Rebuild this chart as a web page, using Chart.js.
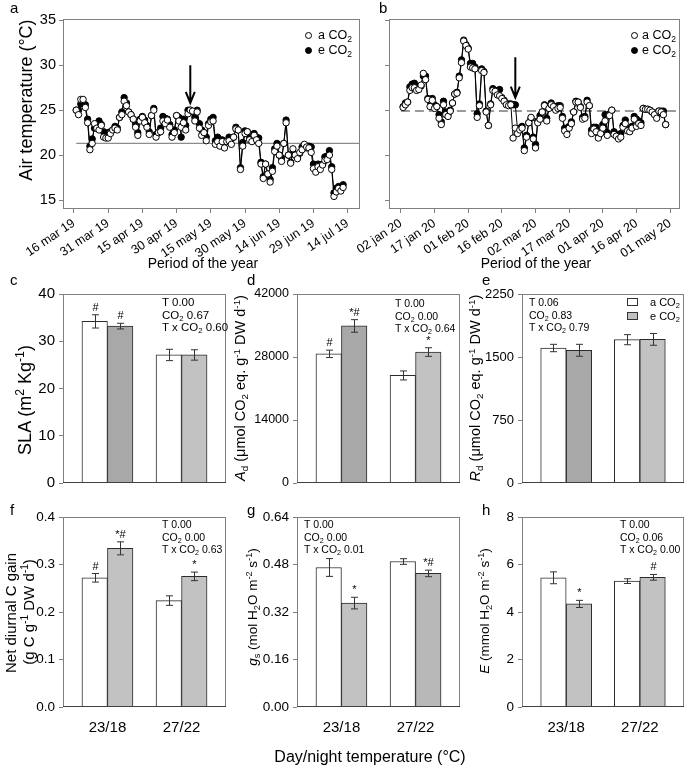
<!DOCTYPE html>
<html>
<head>
<meta charset="utf-8">
<title>Air temperature and leaf gas exchange</title>
<script src="https://cdn.jsdelivr.net/npm/chart.js@4.4.1/dist/chart.umd.min.js"></script>
<style>
  body { margin:0; background:#fff; }
  #fig { position:relative; width:685px; height:769px; overflow:hidden; font-family:"Liberation Sans", Arial, Helvetica, sans-serif; color:#000; }
  #fig canvas { position:absolute; left:0; top:0; }
  .t { position:absolute; white-space:nowrap; line-height:1; }
  .c { transform:translate(-50%,-50%); }
  .r { transform:translate(-50%,-50%) rotate(-90deg); }
  sup, sub { font-size:0.68em; line-height:0; position:relative; vertical-align:baseline; }
  sup { top:-0.55em; }
  sub { top:0.3em; }
  .st { position:absolute; font-size:10.5px; line-height:12.5px; white-space:nowrap; }
  .lg { position:absolute; font-size:12.5px; line-height:15px; white-space:nowrap; }
  .pt { position:absolute; width:5px; height:5px; border:1px solid #000; border-radius:50%; }
  .sq { position:absolute; width:9px; height:6px; border:1px solid #333; }
</style>
</head>
<body>
<div id="fig">
  <canvas id="ca" width="685" height="769"></canvas>
  <canvas id="cb" width="685" height="769"></canvas>
  <canvas id="cc" width="685" height="769"></canvas>
  <canvas id="cd" width="685" height="769"></canvas>
  <canvas id="ce" width="685" height="769"></canvas>
  <canvas id="cf" width="685" height="769"></canvas>
  <canvas id="cg" width="685" height="769"></canvas>
  <canvas id="ch" width="685" height="769"></canvas>

  <!-- panel letters -->
  <div class="t" style="left:10px;top:0px;font-size:15px">a</div>
  <div class="t" style="left:379px;top:0px;font-size:15px">b</div>
  <div class="t" style="left:10px;top:272px;font-size:15px">c</div>
  <div class="t" style="left:247px;top:272px;font-size:15px">d</div>
  <div class="t" style="left:482px;top:272px;font-size:15px">e</div>
  <div class="t" style="left:10px;top:502px;font-size:15px">f</div>
  <div class="t" style="left:247px;top:502px;font-size:15px">g</div>
  <div class="t" style="left:482px;top:502px;font-size:15px">h</div>

  <!-- axis titles -->
  <div class="t r" style="left:26px;top:100px;font-size:18px">Air temperature (°C)</div>
  <div class="t c" style="left:203px;top:263px;font-size:14px">Period of the year</div>
  <div class="t c" style="left:536px;top:263px;font-size:14px">Period of the year</div>
  <div class="t r" style="left:25px;top:400px;font-size:18px">SLA (m<sup>2</sup> Kg<sup>-1</sup>)</div>
  <div class="t r" style="left:240px;top:388px;font-size:14.5px"><i>A</i><sub>d</sub> (μmol CO<sub>2</sub> eq. g<sup>-1</sup> DW d<sup>-1</sup>)</div>
  <div class="t r" style="left:475px;top:388px;font-size:14.5px"><i>R</i><sub>d</sub> (μmol CO<sub>2</sub> eq. g<sup>-1</sup> DW d<sup>-1</sup>)</div>
  <div class="t r" style="left:10px;top:613px;font-size:15px">Net diurnal C gain</div>
  <div class="t r" style="left:28px;top:612px;font-size:15px">(g C g<sup>-1</sup> DW d<sup>-1</sup>)</div>
  <div class="t r" style="left:253px;top:607px;font-size:13.5px"><i>g</i><sub>s</sub> (mol H<sub>2</sub>O m<sup>-2</sup> s<sup>-1</sup>)</div>
  <div class="t r" style="left:485px;top:611px;font-size:13.5px"><i>E</i> (mmol H<sub>2</sub>O m<sup>-2</sup> s<sup>-1</sup>)</div>
  <div class="t c" style="left:370px;top:757px;font-size:16px">Day/night temperature (°C)</div>

  <!-- legends -->
  <div class="pt" style="left:305px;top:32px;background:#fff"></div>
  <div class="lg" style="left:318px;top:28px">a CO<sub>2</sub></div>
  <div class="pt" style="left:305px;top:47px;background:#000"></div>
  <div class="lg" style="left:318px;top:43px">e CO<sub>2</sub></div>
  <div class="pt" style="left:631px;top:32px;background:#fff"></div>
  <div class="lg" style="left:642px;top:28px">a CO<sub>2</sub></div>
  <div class="pt" style="left:631px;top:47px;background:#000"></div>
  <div class="lg" style="left:642px;top:43px">e CO<sub>2</sub></div>
  <div class="sq" style="left:627px;top:298px;background:#fff"></div>
  <div class="lg" style="left:650px;top:295px;font-size:11px">a CO<sub>2</sub></div>
  <div class="sq" style="left:627px;top:312px;background:#c0c0c0"></div>
  <div class="lg" style="left:650px;top:309px;font-size:11px">e CO<sub>2</sub></div>

  <!-- statistics -->
  <div class="st" style="left:162px;top:296px;font-size:11.5px">T 0.00<br>CO<sub>2</sub> 0.67<br>T x CO<sub>2</sub> 0.60</div>
  <div class="st" style="left:395px;top:297px">T 0.00<br>CO<sub>2</sub> 0.00<br>T x CO<sub>2</sub> 0.64</div>
  <div class="st" style="left:529px;top:296px">T 0.06<br>CO<sub>2</sub> 0.83<br>T x CO<sub>2</sub> 0.79</div>
  <div class="st" style="left:162px;top:518px">T 0.00<br>CO<sub>2</sub> 0.00<br>T x CO<sub>2</sub> 0.63</div>
  <div class="st" style="left:304px;top:518px">T 0.00<br>CO<sub>2</sub> 0.00<br>T x CO<sub>2</sub> 0.01</div>
  <div class="st" style="left:620px;top:518px">T 0.00<br>CO<sub>2</sub> 0.06<br>T x CO<sub>2</sub> 0.00</div>
</div>
<script>
// ---- panel a: 2019 daily air temperature (days after 16 mar) ----
const aTickDays = [0, 15, 30, 45, 60, 75, 90, 105, 120]
const aTickLabels = ['16 mar 19','31 mar 19','15 apr 19','30 apr 19','15 may 19','30 may 19','14 jun 19','29 jun 19','14 jul 19']
const aFirstDay = 1
const aAmbient = [
  25.0,24.5,26.2,26.2,25.3,23.6,20.6,21.3,23.5,23.0,
  22.8,23.3,22.0,21.9,21.9,22.4,22.8,23.0,22.8,24.2,
  24.5,26.0,25.5,24.8,24.5,24.0,23.1,22.2,23.8,24.2,
  23.6,23.1,22.3,24.4,25.0,22.0,22.5,22.6,23.8,23.5,
  23.9,23.1,22.0,22.5,24.4,23.8,23.1,23.6,22.8,24.6,
  25.0,24.9,23.8,24.8,23.0,22.2,22.5,21.6,23.3,23.7,
  23.8,21.2,21.5,21.0,21.5,20.8,21.5,21.6,21.2,22.0,
  22.9,22.8,18.4,21.0,22.4,22.6,21.7,21.5,22.2,21.7,
  21.3,19.0,17.4,19.0,17.9,17.0,18.2,20.4,21.0,20.0,
  19.3,21.3,23.6,20.0,19.1,20.7,20.0,19.6,20.3,20.6,
  21.2,20.9,20.8,20.3,18.5,18.1,18.7,18.4,18.9,19.4,
  19.5,20.0,18.4,15.4,15.9,16.3,16.0,16.4]
const aElevated = [
  25.0,25.0,25.7,25.8,25.6,24.0,21.0,21.8,23.0,23.3,
  23.8,23.4,22.6,22.3,22.5,22.6,22.8,23.2,23.0,24.2,
  24.8,26.4,25.8,24.8,24.5,24.0,23.4,22.5,24.0,24.3,
  23.9,23.3,22.6,24.4,25.2,22.3,22.5,23.0,24.3,24.1,
  24.0,23.4,22.3,22.8,24.4,24.2,22.0,24.0,23.3,25.0,
  25.0,24.8,24.2,25.0,23.5,22.8,22.5,22.0,23.5,24.0,
  24.2,21.6,22.0,21.5,21.7,21.4,21.5,22.0,21.8,22.0,
  23.1,22.8,18.6,21.4,22.7,22.6,22.0,21.9,22.4,22.0,
  21.9,19.2,17.6,19.0,17.9,17.3,18.6,20.7,21.3,20.0,
  19.7,21.3,23.9,20.0,19.2,20.3,20.0,19.8,20.2,20.9,
  21.1,20.8,21.0,20.9,19.0,18.7,19.0,18.9,19.0,19.8,
  19.9,20.5,18.7,15.8,16.3,16.5,16.3,16.7]
const aMean = 21.3
const aArrow = { day: 51, top: 30.0, tip: 25.8 }

// ---- panel b: 2020 daily air temperature (days after 02 jan) ----
const bTickDays = [0, 15, 30, 45, 60, 75, 90, 105, 120]
const bTickLabels = ['02 jan 20','17 jan 20','01 feb 20','16 feb 20','02 mar 20','17 mar 20','01 apr 20','16 apr 20','01 may 20']
const bFirstDay = 1
const bAmbient = [
  25.3,25.6,25.9,27.2,27.5,27.5,27.2,27.3,27.8,29.1,
  28.4,26.2,25.4,26.1,25.2,25.4,24.1,23.4,25.6,24.5,
  24.3,24.9,25.8,26.8,26.9,28.6,30.3,32.7,32.2,31.8,
  29.8,29.7,29.6,24.2,25.5,29.4,29.2,24.8,23.3,25.6,
  27.2,27.1,26.7,26.6,26.3,26.0,25.6,25.5,25.6,21.9,
  23.0,22.4,22.8,23.0,20.5,22.0,23.6,24.2,21.8,20.8,
  23.6,24.0,24.8,25.5,23.8,25.2,25.6,25.4,25.0,25.2,
  25.3,24.1,22.7,22.3,23.0,23.5,24.8,25.9,25.9,25.3,
  24.0,24.1,25.9,25.5,22.4,22.9,22.6,21.9,22.4,23.0,
  23.8,22.2,24.4,25.0,22.3,22.1,21.8,22.0,23.1,23.5,
  22.7,22.6,23.0,24.0,23.2,23.5,23.3,25.2,25.1,25.1,
  25.0,24.8,24.5,24.1,24.9,24.8,24.5,23.4]
const bElevated = [
  25.4,25.8,25.9,27.6,27.9,28.0,27.6,27.6,27.7,28.8,
  28.8,26.3,26.0,26.3,25.6,25.4,24.5,23.7,26.0,24.8,
  24.5,25.0,25.8,26.8,27.0,28.8,30.6,32.8,32.3,31.9,
  30.2,30.2,29.8,24.6,25.7,29.6,29.3,24.9,23.3,25.7,
  27.4,27.2,27.0,27.3,26.4,26.1,25.7,25.7,25.7,25.6,
  25.6,22.8,23.0,23.2,20.8,22.2,23.6,24.1,22.0,21.2,
  23.8,24.4,24.8,25.6,24.1,25.4,25.8,25.3,25.3,25.5,
  25.5,24.3,23.0,22.8,23.2,23.7,24.8,26.0,25.9,25.4,
  24.2,24.3,26.1,25.5,22.8,23.1,23.1,22.4,22.8,23.4,
  24.5,22.5,24.6,25.0,22.6,22.3,22.1,22.4,23.3,23.9,
  23.0,22.9,23.2,24.3,24.0,23.8,23.6,25.2,25.1,25.1,
  25.0,24.8,24.7,24.5,24.9,24.9,24.9,23.4]
const bMean = 24.9
const bArrow = { day: 51, top: 30.9, tip: 26.4 }

const tempTicks = [15, 20, 25, 30, 35]

// ---- panels c-h: day/night temperature treatments ----
const tempLabels = ['23/18', '27/22']

const slaTicks = [0, 10, 20, 30, 40]
const slaAmb = [34.2, 27.1], slaAmbErr = [1.4, 1.2], slaAmbMark = ['#', '']
const slaEle = [33.2, 27.1], slaEleErr = [0.6, 1.1], slaEleMark = ['#', '']

const adTicks = [0, 14000, 28000, 42000]
const adAmb = [28700, 23900], adAmbErr = [820, 1000], adAmbMark = ['#', '']
const adEle = [34900, 29100], adEleErr = [1400, 960], adEleMark = ['*#', '*']

const rdTicks = [0, 750, 1500, 2250]
const rdAmb = [1607, 1706], rdAmbErr = [44, 60], rdAmbMark = ['', '']
const rdEle = [1580, 1710], rdEleErr = [71, 70], rdEleMark = ['', '']

const ncTicks = [0, 0.1, 0.2, 0.3, 0.4]
const ncAmb = [0.272, 0.224], ncAmbErr = [0.009, 0.010], ncAmbMark = ['#', '']
const ncEle = [0.334, 0.275], ncEleErr = [0.0137, 0.009], ncEleMark = ['*#', '*']

const gsTicks = [0, 0.16, 0.32, 0.48, 0.64]
const gsAmb = [0.470, 0.490], gsAmbErr = [0.030, 0.0095], gsAmbMark = ['', '']
const gsEle = [0.350, 0.450], gsEleErr = [0.0196, 0.011], gsEleMark = ['*', '*#']

const eTicks = [0, 2, 4, 6, 8]
const eAmb = [5.44, 5.30], eAmbErr = [0.25, 0.10], eAmbMark = ['', '']
const eEle = [4.34, 5.46], eEleErr = [0.15, 0.12], eEleMark = ['*', '#']

Chart.defaults.font.family = '"Liberation Sans", Arial, Helvetica, sans-serif'
Chart.defaults.color = '#000'

const W = 685, H = 769
const GRAY = '#808080'

// plot box is fixed: the y axis fills everything left of it, the x axis everything below
function pad(box){
  return { left: 0, top: box.t, right: W - box.r, bottom: 0 }
}

const boxPlugin = {
  id: 'box',
  afterDraw(chart, args, opts){
    const a = chart.chartArea, c = chart.ctx
    c.save()
    c.lineWidth = 1
    c.strokeStyle = GRAY
    c.strokeRect(a.left + 0.5, a.top + 0.5, a.right - a.left - 1, a.bottom - a.top - 1)
    if (opts.base) {
      c.strokeStyle = opts.base
      c.beginPath()
      c.moveTo(a.left, a.bottom - 0.5)
      c.lineTo(a.right, a.bottom - 0.5)
      c.stroke()
    }
    c.restore()
  }
}

const arrowPlugin = {
  id: 'arrow',
  afterDatasetsDraw(chart, args, opts){
    if (!opts.mark) return
    const x = chart.scales.x.getPixelForValue(opts.mark.day)
    const y0 = chart.scales.y.getPixelForValue(opts.mark.top)
    const y1 = chart.scales.y.getPixelForValue(opts.mark.tip)
    const c = chart.ctx
    c.save()
    c.strokeStyle = '#000'
    c.lineWidth = 2
    c.beginPath()
    c.moveTo(x, y0); c.lineTo(x, y1)
    c.moveTo(x - 4.5, y1 - 11); c.lineTo(x, y1); c.lineTo(x + 4.5, y1 - 11)
    c.stroke()
    c.restore()
  }
}

const errPlugin = {
  id: 'errbars',
  afterDatasetsDraw(chart){
    const ys = chart.scales.y, c = chart.ctx
    chart.data.datasets.forEach((ds, di) => {
      const meta = chart.getDatasetMeta(di)
      meta.data.forEach((bar, i) => {
        const v = ds.data[i].y, e = ds.err[i]
        const x = Math.round(bar.x) + 0.5
        const y1 = ys.getPixelForValue(v + e), y2 = ys.getPixelForValue(v - e)
        c.save()
        c.strokeStyle = '#333'
        c.lineWidth = 1
        c.beginPath()
        c.moveTo(x, y1); c.lineTo(x, y2)
        c.moveTo(x - 3.5, y1); c.lineTo(x + 3.5, y1)
        c.moveTo(x - 3.5, y2); c.lineTo(x + 3.5, y2)
        c.stroke()
        if (ds.marks[i]) {
          c.fillStyle = '#000'
          c.font = '11px "Liberation Sans", Arial, sans-serif'
          c.textAlign = 'center'
          c.textBaseline = 'alphabetic'
          c.fillText(ds.marks[i], x, y1 - 4)
        }
        c.restore()
      })
    })
  }
}

function series(vals, first){
  return vals.map((v, i) => ({ x: first + i, y: v }))
}

function tempChart(id, box, xmin, xmax, tickDays, tickLabels, amb, ele, first, mean, meanFrom, dashed, arrow, showY){
  new Chart(document.getElementById(id), {
    type: 'line',
    data: {
      datasets: [
        { label: 'a CO2', data: series(amb, first), borderColor: '#000', borderWidth: 1,
          pointRadius: 3.2, pointBorderWidth: 1, pointBackgroundColor: '#fff', pointBorderColor: '#000' },
        { label: 'e CO2', data: series(ele, first), borderColor: '#000', borderWidth: 1,
          pointRadius: 3.2, pointBorderWidth: 1, pointBackgroundColor: '#000', pointBorderColor: '#000' },
        { label: 'mean', data: [{ x: meanFrom, y: mean }, { x: xmax, y: mean }],
          borderColor: dashed ? '#9a9a9a' : '#8c8c8c', borderWidth: dashed ? 2 : 1.3,
          borderDash: dashed ? [9, 5] : [], pointRadius: 0 }
      ]
    },
    options: {
      animation: false, responsive: false, devicePixelRatio: 1,
      layout: { padding: pad(box) },
      plugins: { legend: { display: false }, tooltip: { enabled: false }, arrow: { mark: arrow }, box: {} },
      scales: {
        x: {
          type: 'linear', min: xmin, max: xmax, offset: false,
          afterBuildTicks: s => { s.ticks = tickDays.map(v => ({ value: v })) },
          ticks: { callback: (v, i) => tickLabels[i], minRotation: 34, maxRotation: 34, autoSkip: false,
                   font: { size: 12.5 }, padding: 3 },
          grid: { drawOnChartArea: false, tickLength: 4, color: GRAY },
          border: { display: false },
          afterFit: s => { s.height = H - box.b }
        },
        y: {
          min: 14, max: 35.15,
          afterBuildTicks: s => { s.ticks = tempTicks.map(v => ({ value: v })) },
          ticks: { display: showY, font: { size: 14.5 }, padding: 3 },
          grid: { drawOnChartArea: false, tickLength: 4, color: GRAY },
          border: { display: false },
          afterFit: s => { s.width = box.l }
        }
      }
    },
    plugins: [boxPlugin, arrowPlugin]
  })
}

function barChart(id, box, showX, ticks, digits, tickSize, amb, ambErr, ambMark, ele, eleErr, eleMark, eleColors){
  const pos = tempLabels.map((_, i) => i + 1)
  new Chart(document.getElementById(id), {
    type: 'bar',
    data: {
      datasets: [
        { label: 'a CO2', data: pos.map((x, i) => ({ x, y: amb[i] })), backgroundColor: '#fff',
          borderColor: '#2b2b2b', borderWidth: 1, barThickness: 25.5, err: ambErr, marks: ambMark },
        { label: 'e CO2', data: pos.map((x, i) => ({ x, y: ele[i] })), backgroundColor: eleColors,
          borderColor: '#2b2b2b', borderWidth: 1, barThickness: 25.5, err: eleErr, marks: eleMark }
      ]
    },
    options: {
      animation: false, responsive: false, devicePixelRatio: 1,
      layout: { padding: pad(box) },
      plugins: { legend: { display: false }, tooltip: { enabled: false }, box: { base: '#404040' } },
      scales: {
        x: {
          type: 'linear', min: 0.4, max: 2.6, offset: false,
          afterBuildTicks: s => { s.ticks = pos.map(v => ({ value: v })) },
          ticks: { display: showX, callback: (v, i) => tempLabels[i], font: { size: 15 }, padding: 12, maxRotation: 0, autoSkip: false },
          grid: { display: false, drawTicks: false },
          border: { display: false },
          afterFit: s => { s.height = H - box.b }
        },
        y: {
          min: ticks[0], max: ticks[ticks.length - 1],
          afterBuildTicks: s => { s.ticks = ticks.map(v => ({ value: v })) },
          ticks: { callback: v => v.toFixed(digits), font: { size: tickSize }, padding: 4 },
          grid: { drawOnChartArea: false, tickLength: 4, color: GRAY },
          border: { display: false },
          afterFit: s => { s.width = box.l }
        }
      }
    },
    plugins: [boxPlugin, errPlugin]
  })
}

tempChart('ca', { l: 63, r: 360, t: 19, b: 209 }, -4.8, 125.4, aTickDays, aTickLabels,
  aAmbient, aElevated, aFirstDay, aMean, 1, false, aArrow, true)
tempChart('cb', { l: 389, r: 683, t: 19, b: 209 }, -5.3, 124.4, bTickDays, bTickLabels,
  bAmbient, bElevated, bFirstDay, bMean, 0, true, bArrow, false)

barChart('cc', { l: 63, r: 226, t: 294, b: 483 }, false, slaTicks, 0, 15,
  slaAmb, slaAmbErr, slaAmbMark, slaEle, slaEleErr, slaEleMark, ['#a8a8a8', '#c2c2c2'])
barChart('cd', { l: 297, r: 460, t: 294, b: 483 }, false, adTicks, 0, 12.5,
  adAmb, adAmbErr, adAmbMark, adEle, adEleErr, adEleMark, ['#a8a8a8', '#c2c2c2'])
barChart('ce', { l: 522, r: 684, t: 294, b: 483 }, false, rdTicks, 0, 13,
  rdAmb, rdAmbErr, rdAmbMark, rdEle, rdEleErr, rdEleMark, ['#a8a8a8', '#c2c2c2'])
barChart('cf', { l: 63, r: 226, t: 517, b: 707 }, true, ncTicks, 1, 13.5,
  ncAmb, ncAmbErr, ncAmbMark, ncEle, ncEleErr, ncEleMark, ['#c2c2c2', '#c2c2c2'])
barChart('cg', { l: 297, r: 460, t: 517, b: 707 }, true, gsTicks, 2, 13.5,
  gsAmb, gsAmbErr, gsAmbMark, gsEle, gsEleErr, gsEleMark, ['#c2c2c2', '#b8b8b8'])
barChart('ch', { l: 522, r: 684, t: 517, b: 707 }, true, eTicks, 0, 13.5,
  eAmb, eAmbErr, eAmbMark, eEle, eEleErr, eEleMark, ['#c2c2c2', '#c2c2c2'])
</script>
</body>
</html>
